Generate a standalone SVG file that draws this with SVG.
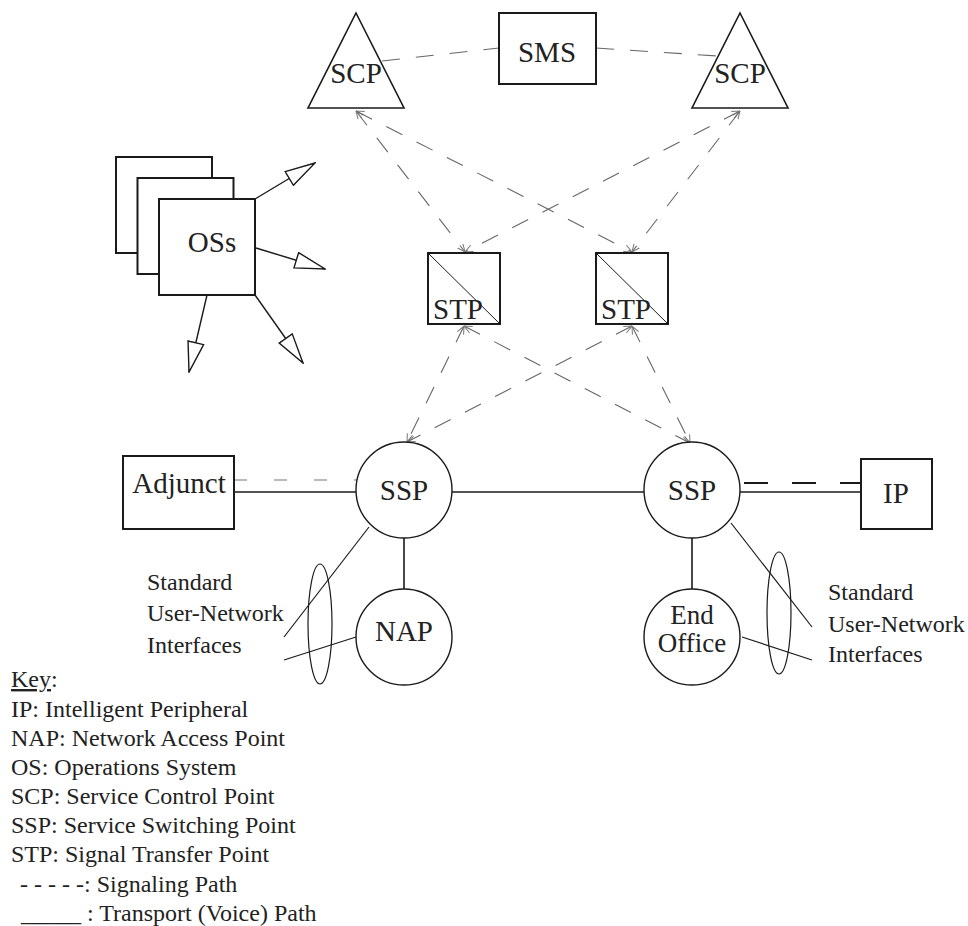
<svg xmlns="http://www.w3.org/2000/svg" width="968" height="926" viewBox="0 0 968 926">
<style>
text{font-family:"Liberation Serif","Times New Roman",serif;fill:#222}
.n{font-size:29px}
.e{font-size:27px}
.s{font-size:24px}
.box{fill:#fff;stroke:#1a1a1a;stroke-width:2}
.circ{fill:#fff;stroke:#1a1a1a;stroke-width:1.4}
.tri{fill:#fff;stroke:#1a1a1a;stroke-width:1.6}
.sol{stroke:#1a1a1a;stroke-width:1.6;fill:none}
.thin{stroke:#1a1a1a;stroke-width:1.2;fill:none}
.sig{stroke:#666;stroke-width:1.1;fill:none;stroke-dasharray:18 16}
.sigx{stroke:#666;stroke-width:1.1;fill:none;stroke-dasharray:18 16;marker-start:url(#sa);marker-end:url(#sa)}
.adj{stroke:#777;stroke-width:1.2;fill:none;stroke-dasharray:13 27}
.ipd{stroke:#1a1a1a;stroke-width:2;fill:none;stroke-dasharray:24 24}
.osl{stroke:#1a1a1a;stroke-width:1.4;fill:none;marker-end:url(#oa)}
</style>
<defs>
<marker id="sa" viewBox="0 0 8 8" refX="8" refY="4" markerWidth="8" markerHeight="8" markerUnits="userSpaceOnUse" orient="auto-start-reverse">
<path d="M0,0.5 L8,4 L0,7.5" fill="none" stroke="#777" stroke-width="1"/>
</marker>
<marker id="oa" viewBox="0 0 32 18" refX="31" refY="9" markerWidth="32" markerHeight="18" markerUnits="userSpaceOnUse" orient="auto">
<path d="M1,1 L31,9 L1,17 Z" fill="#fff" stroke="#1a1a1a" stroke-width="1.4"/>
</marker>
</defs>

<g id="connectors">
<line class="sig" x1="382" y1="61" x2="499" y2="48"/>
<line class="sig" x1="596" y1="48" x2="717" y2="56"/>
<line class="sigx" x1="356" y1="111" x2="465" y2="252"/>
<line class="sigx" x1="356" y1="111" x2="632" y2="252"/>
<line class="sigx" x1="740" y1="111" x2="465" y2="252"/>
<line class="sigx" x1="740" y1="111" x2="632" y2="252"/>
<line class="sigx" x1="464" y1="326" x2="407" y2="442"/>
<line class="sigx" x1="464" y1="326" x2="690" y2="443"/>
<line class="sigx" x1="632" y1="326" x2="407" y2="442"/>
<line class="sigx" x1="632" y1="326" x2="690" y2="443"/>
<line class="adj" x1="234" y1="480" x2="358" y2="480"/>
<line class="sol" x1="234" y1="492" x2="356" y2="492"/>
<line class="sol" x1="452" y1="492" x2="644" y2="492"/>
<line class="sol" x1="740" y1="492" x2="861" y2="492"/>
<line class="ipd" x1="744" y1="483" x2="866" y2="483"/>
<line class="sol" x1="404" y1="538" x2="404" y2="589"/>
<line class="sol" x1="692" y1="538" x2="692" y2="589"/>
<line class="thin" x1="369" y1="527" x2="284" y2="637"/>
<line class="thin" x1="356" y1="637" x2="284" y2="660"/>
<line class="thin" x1="731" y1="523" x2="812" y2="627"/>
<line class="thin" x1="742" y1="637" x2="812" y2="660"/>
<ellipse class="thin" cx="320" cy="624" rx="12" ry="60"/>
<ellipse class="thin" cx="779" cy="613" rx="12" ry="61"/>
<line class="osl" x1="255" y1="199" x2="315" y2="163"/>
<line class="osl" x1="256" y1="248" x2="325" y2="269"/>
<line class="osl" x1="207" y1="295" x2="189" y2="372"/>
<line class="osl" x1="255" y1="295" x2="303" y2="363"/>
</g>

<g id="scp-left">
<polygon class="tri" points="356,13 404,108 308,108"/>
<text class="n" x="356" y="83" text-anchor="middle">SCP</text>
</g>
<g id="sms">
<rect class="box" x="499" y="13" width="97" height="71"/>
<text class="n" x="547" y="62" text-anchor="middle">SMS</text>
</g>
<g id="scp-right">
<polygon class="tri" points="740,13 788,108 692,108"/>
<text class="n" x="740" y="83" text-anchor="middle">SCP</text>
</g>

<g id="oss">
<rect class="box" x="116" y="157" width="96" height="96"/>
<rect class="box" x="137.5" y="178" width="96" height="96"/>
<rect class="box" x="159" y="199" width="96" height="96"/>
<text class="n" x="212" y="252" text-anchor="middle">OSs</text>
</g>

<g id="stp-left">
<rect class="box" x="428" y="253" width="72" height="71"/>
<line x1="428" y1="253" x2="500" y2="324" stroke="#1a1a1a" stroke-width="1"/>
<text class="n" x="433" y="319">STP</text>
</g>
<g id="stp-right">
<rect class="box" x="596" y="253" width="72" height="71"/>
<line x1="596" y1="253" x2="668" y2="324" stroke="#1a1a1a" stroke-width="1"/>
<text class="n" x="601" y="319">STP</text>
</g>

<g id="adjunct">
<rect class="box" x="123" y="456" width="111" height="73"/>
<text class="n" x="179" y="493" text-anchor="middle">Adjunct</text>
</g>
<g id="ssp-left">
<circle class="circ" cx="404" cy="490" r="48"/>
<text class="n" x="404" y="500" text-anchor="middle">SSP</text>
</g>
<g id="ssp-right">
<circle class="circ" cx="692" cy="490" r="48"/>
<text class="n" x="692" y="500" text-anchor="middle">SSP</text>
</g>
<g id="ip">
<rect class="box" x="861" y="459" width="71" height="70"/>
<text class="n" x="896" y="503" text-anchor="middle">IP</text>
</g>
<g id="nap">
<circle class="circ" cx="404" cy="637" r="48"/>
<text class="n" x="404" y="641" text-anchor="middle">NAP</text>
</g>
<g id="end-office">
<circle class="circ" cx="692" cy="637" r="48"/>
<text class="e" x="692" y="624" text-anchor="middle">End</text>
<text class="e" x="692" y="652" text-anchor="middle">Office</text>
</g>

<g id="uni-left">
<text class="s" x="147" y="590">Standard</text>
<text class="s" x="147" y="621">User-Network</text>
<text class="s" x="147" y="653">Interfaces</text>
</g>
<g id="uni-right">
<text class="s" x="828" y="600">Standard</text>
<text class="s" x="828" y="632">User-Network</text>
<text class="s" x="828" y="662">Interfaces</text>
</g>

<g id="key">
<text class="s" x="11" y="687"><tspan text-decoration="underline">Key</tspan>:</text>
<text class="s" x="11" y="717">IP: Intelligent Peripheral</text>
<text class="s" x="11" y="746">NAP: Network Access Point</text>
<text class="s" x="11" y="775">OS: Operations System</text>
<text class="s" x="11" y="804">SCP: Service Control Point</text>
<text class="s" x="11" y="833">SSP: Service Switching Point</text>
<text class="s" x="11" y="862">STP: Signal Transfer Point</text>
<text class="s" x="20" y="892">- - - - -: Signaling Path</text>
<text class="s" x="21" y="921">_____ : Transport (Voice) Path</text>
</g>
</svg>
